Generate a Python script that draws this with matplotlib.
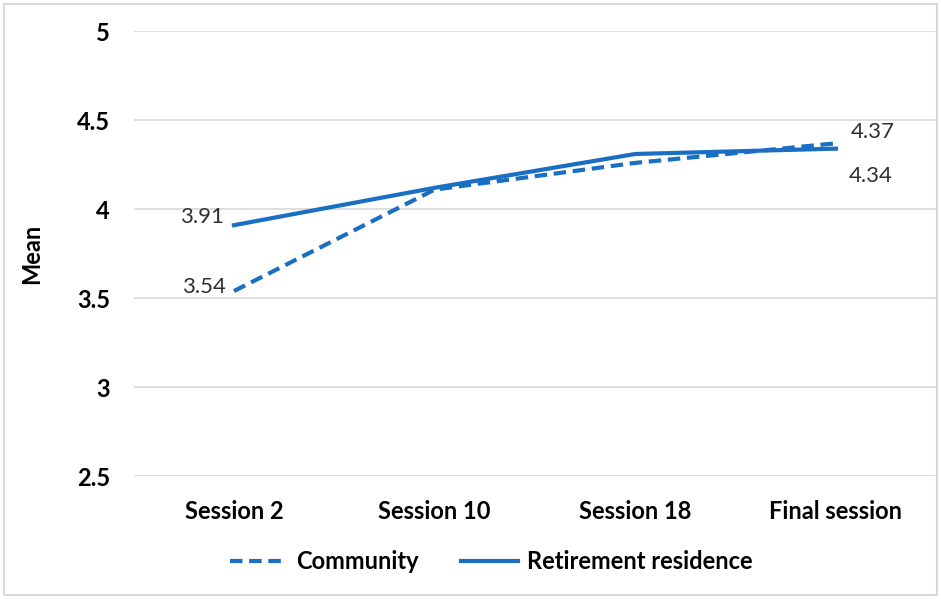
import matplotlib.pyplot as plt
from matplotlib.patches import Rectangle

sessions = ["Session 2", "Session 10", "Session 18", "Final session"]
community = [3.54, 4.11, 4.26, 4.37]
retirement = [3.91, 4.12, 4.31, 4.34]
yticks = [2.5, 3, 3.5, 4, 4.5, 5]

plt.rcParams['font.family'] = ['Lato', 'DejaVu Sans']
blue = '#1a6fc2'

fig = plt.figure(figsize=(9.41, 5.99), dpi=100)
ax = fig.add_axes([0.142, 0.205, 0.853, 0.743])
x = range(len(sessions))
ax.plot(x, community, color=blue, lw=3, ls=(0, (3, 1.6)), label='Community')
ax.plot(x, retirement, color=blue, lw=3, label='Retirement residence')

ax.set_xlim(-0.5, 3.5)
ax.set_ylim(2.5, 5)
ax.set_yticks(yticks)
ax.set_yticklabels([f"{t:g}" for t in yticks], fontsize=17, fontweight='bold')
ax.set_xticks(list(x))
ax.set_xticklabels(sessions, fontsize=17, fontweight='bold')
ax.tick_params(length=0)
ax.tick_params(axis='x', pad=17)
ax.tick_params(axis='y', pad=17)
ax.grid(axis='y', color='#d9d9d9', lw=1.2)
ax.set_axisbelow(True)
for s in ax.spines.values():
    s.set_visible(False)
ax.set_ylabel('Mean', fontsize=17, fontweight='bold', labelpad=24)

# data labels
lab = dict(textcoords='offset points', va='center', fontsize=16, color='#303030')
ax.annotate(f"{retirement[0]:.2f}", (0, retirement[0]), xytext=(-7, 6), ha='right', **lab)
ax.annotate(f"{community[0]:.2f}", (0, community[0]), xytext=(-6, 3), ha='right', **lab)
ax.annotate(f"{community[-1]:.2f}", (3, community[-1]), xytext=(11, 8), ha='left', **lab)
ax.annotate(f"{retirement[-1]:.2f}", (3, retirement[-1]), xytext=(9, -20), ha='left', **lab)

leg = fig.legend(loc='center', bbox_to_anchor=(0.522, 0.062), ncol=2, frameon=False,
                 fontsize=17, handlelength=2.4, columnspacing=1.8, handletextpad=0.4)
for t in leg.get_texts():
    t.set_fontweight('bold')

fig.patches.append(Rectangle((0.004, 0.006), 0.992, 0.988, transform=fig.transFigure,
                             fill=False, ec='#d9d9d9', lw=1.5))
fig.savefig('out.png', dpi=100)
